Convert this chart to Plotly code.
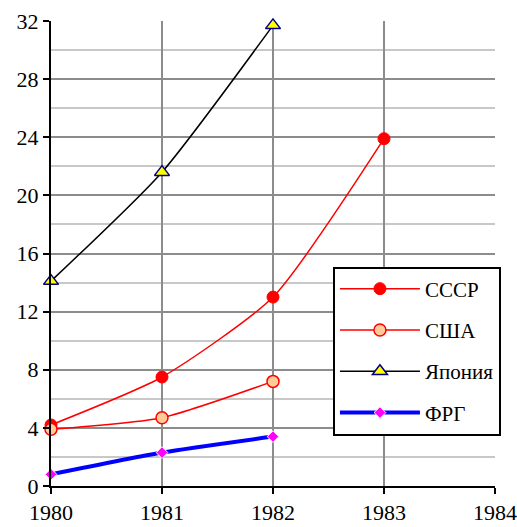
import plotly.graph_objects as go

years = [1980, 1981, 1982, 1983]
sssr = [4.2, 7.5, 13.0, 23.9]
usa = [3.9, 4.7, 7.2]
japan = [14.1, 21.6, 31.7]
frg = [0.8, 2.3, 3.4]

FONT = "Times New Roman, Liberation Serif, DejaVu Serif, serif"
SM = 0.6

fig = go.Figure()
fig.add_trace(go.Scatter(
    x=years, y=sssr, name="СССР", mode="lines+markers", legendgroup="a",
    line=dict(color="#ff0000", width=1.5, shape="spline", smoothing=SM),
    marker=dict(symbol="circle", size=12, color="#ff0000", line=dict(color="#ff0000", width=1)),
    cliponaxis=False))
fig.add_trace(go.Scatter(
    x=years[:3], y=usa, name="США", mode="lines+markers", legendgroup="b",
    line=dict(color="#ff0000", width=1.5, shape="spline", smoothing=SM),
    marker=dict(symbol="circle", size=12, color="#ffcc99", line=dict(color="#ff0000", width=1.5)),
    cliponaxis=False))
fig.add_trace(go.Scatter(
    x=years[:3], y=japan, name="Япония", mode="lines+markers", legendgroup="c",
    line=dict(color="#000000", width=1.5, shape="spline", smoothing=SM),
    marker=dict(symbol="triangle-up", size=13, color="#ffff00", line=dict(color="#000080", width=1.5)),
    cliponaxis=False))
fig.add_trace(go.Scatter(
    x=years[:3], y=frg, name="ФРГ", mode="lines+markers", legendgroup="d",
    line=dict(color="#0000ff", width=4, shape="spline", smoothing=SM),
    marker=dict(symbol="diamond", size=9, color="#ff00ff", line=dict(color="#ffffff", width=1)),
    cliponaxis=False))

fig.update_layout(
    width=517, height=527,
    margin=dict(l=51, r=22, t=21, b=41, autoexpand=False),
    paper_bgcolor="white", plot_bgcolor="white",
    font=dict(family=FONT, size=22, color="black"),
    showlegend=True,
    legend=dict(
        x=0.635, y=0.472, xanchor="left", yanchor="top",
        bgcolor="white", bordercolor="black", borderwidth=2,
        font=dict(family=FONT, size=21, color="black"),
        itemwidth=80, tracegroupgap=11,
        entrywidth=199, entrywidthmode="pixels",
    ),
    xaxis=dict(
        range=[1980, 1984], tickmode="array", tickvals=[1980, 1981, 1982, 1983, 1984],
        ticktext=["1980", "1981", "1982", "1983", "1984"],
        showgrid=True, gridcolor="#8c8c8c", gridwidth=1.5,
        showline=True, linecolor="black", linewidth=2,
        ticks="outside", ticklen=6, tickcolor="black", tickwidth=2,
        zeroline=False, mirror=False, automargin=False,
        tickfont=dict(family=FONT, size=22),
    ),
    yaxis=dict(
        range=[0, 32], tickmode="linear", tick0=0, dtick=4,
        showgrid=True, gridcolor="#8c8c8c", gridwidth=1.5,
        minor=dict(dtick=2, showgrid=True, gridcolor="#c8c8c8", gridwidth=1.5),
        showline=True, linecolor="black", linewidth=2,
        ticks="outside", ticklen=6, tickcolor="black", tickwidth=2,
        zeroline=False, automargin=False,
        tickfont=dict(family=FONT, size=22),
    ),
)

fig.write_html("out.html", config={"displayModeBar": False})
with open("out.html", encoding="utf-8") as f:
    html = f.read()
html = html.replace("<head>", "<head><style>html,body{margin:0;padding:0;overflow:hidden;}</style>", 1)
with open("out.html", "w", encoding="utf-8") as f:
    f.write(html)
